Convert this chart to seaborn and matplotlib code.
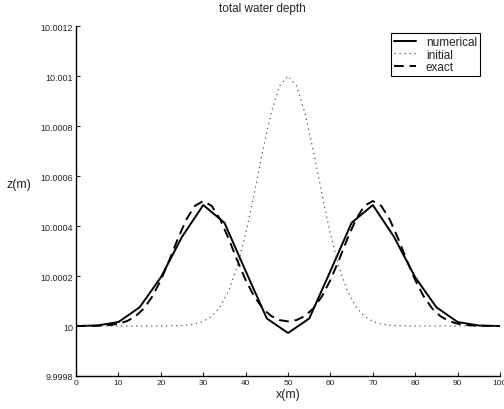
import numpy as np
import pandas as pd
import matplotlib
matplotlib.use("Agg")
import matplotlib.pyplot as plt
import seaborn as sns

# ---- data (deviation from 10 m, in units of 1e-4 m) ----
x_num = [0, 5, 10, 15, 20, 25, 30, 35, 40, 45, 50, 55, 60, 65, 70, 75, 80, 85, 90, 95, 100]
dev_num = [0.0, 0.02, 0.16, 0.75, 1.95, 3.57, 4.84, 4.13, 2.2, 0.3, -0.28, 0.3, 2.2,
           4.13, 4.84, 3.57, 1.95, 0.75, 0.16, 0.02, 0.0]

x_fine = [0, 2, 4, 6, 8, 10, 12, 14, 16, 18, 20, 22, 24, 26, 28, 30, 32, 34, 36, 38, 40,
          42, 44, 46, 48, 50, 52, 54, 56, 58, 60, 62, 64, 66, 68, 70, 72, 74, 76, 78, 80,
          82, 84, 86, 88, 90, 92, 94, 96, 98, 100]
dev_exact = [0.001, 0.002, 0.006, 0.016, 0.040, 0.092, 0.196, 0.386, 0.704, 1.185, 1.839,
             2.636, 3.488, 4.261, 4.804, 5.000, 4.804, 4.261, 3.488, 2.636, 1.840,
             1.187, 0.710, 0.402, 0.236, 0.184, 0.236, 0.402, 0.710, 1.187, 1.840,
             2.636, 3.488, 4.261, 4.804, 5.000, 4.804, 4.261, 3.488, 2.636, 1.839,
             1.185, 0.704, 0.386, 0.196, 0.092, 0.040, 0.016, 0.006, 0.002, 0.001]
dev_initial = [0.0, 0.0, 0.0, 0.0, 0.0, 0.0, 0.0, 0.0, 0.0, 0.0, 0.001,
               0.004, 0.012, 0.032, 0.079, 0.183, 0.392, 0.773, 1.409, 2.369, 3.679,
               5.273, 6.977, 8.521, 9.608, 10.0, 9.608, 8.521, 6.977, 5.273, 3.679,
               2.369, 1.409, 0.773, 0.392, 0.183, 0.079, 0.032, 0.012, 0.004, 0.001,
               0.0, 0.0, 0.0, 0.0, 0.0, 0.0, 0.0, 0.0, 0.0, 0.0]

base = 10.0
scale = 1e-4
y_ticks = [9.9998, 10.0, 10.0002, 10.0004, 10.0006, 10.0008, 10.001, 10.0012]
y_tick_labels = ["9.9998", "10", "10.0002", "10.0004", "10.0006", "10.0008", "10.001", "10.0012"]
x_ticks = [0, 10, 20, 30, 40, 50, 60, 70, 80, 90, 100]

df_num = pd.DataFrame({"x": x_num, "z": base + scale * np.array(dev_num)})
df_exact = pd.DataFrame({"x": x_fine, "z": base + scale * np.array(dev_exact)})
df_init = pd.DataFrame({"x": x_fine, "z": base + scale * np.array(dev_initial)})

sns.set_style("ticks")
plt.rcParams["font.family"] = ["Liberation Sans", "DejaVu Sans"]
plt.rcParams["xtick.direction"] = "in"
plt.rcParams["ytick.direction"] = "in"

fig = plt.figure(figsize=(5.04, 4.10), dpi=100)
ax = fig.add_axes([0.151, 0.0805, 0.841, 0.8535])

sns.lineplot(data=df_num, x="x", y="z", ax=ax, color="black", lw=1.4, label="numerical")
sns.lineplot(data=df_init, x="x", y="z", ax=ax, color="#555555", lw=0.9, label="initial")
sns.lineplot(data=df_exact, x="x", y="z", ax=ax, color="black", lw=1.4, label="exact")
ax.lines[1].set_linestyle((0, (1, 3)))
ax.lines[2].set_linestyle((0, (5, 3)))

ax.set_xlim(0, 100)
ax.set_ylim(9.9998, 10.0012)
ax.set_xticks(x_ticks)
ax.set_xticklabels([str(t) for t in x_ticks], fontsize=6)
ax.set_yticks(y_ticks)
ax.set_yticklabels(y_tick_labels, fontsize=6.5)
ax.tick_params(length=3, width=0.8, pad=2)

for s in ["top", "right"]:
    ax.spines[s].set_visible(False)
for s in ["left", "bottom"]:
    ax.spines[s].set_linewidth(1.0)
    ax.spines[s].set_color("black")

ax.set_title("total water depth", fontsize=8.5, pad=11, x=0.439)
ax.set_xlabel("x(m)", fontsize=9)
ax.xaxis.set_label_coords(0.5, -0.035)
ax.set_ylabel("z(m)", fontsize=9, rotation=0, ha="center", va="center")
ax.yaxis.set_label_coords(-0.135, 0.55)

leg = ax.legend(loc="upper right", bbox_to_anchor=(0.953, 0.98), borderaxespad=0,
                fontsize=8.5, frameon=True, fancybox=False, handlelength=1.9,
                handletextpad=0.85, borderpad=0.25, labelspacing=0.05)
leg.get_frame().set_edgecolor("black")
leg.get_frame().set_linewidth(0.8)
leg.get_frame().set_alpha(1)
handles = leg.legend_handles if hasattr(leg, "legend_handles") else leg.legendHandles
handles[1].set_linestyle((0, (1, 3)))
handles[2].set_linestyle((0, (5, 3)))

fig.savefig("out.png", dpi=100)
